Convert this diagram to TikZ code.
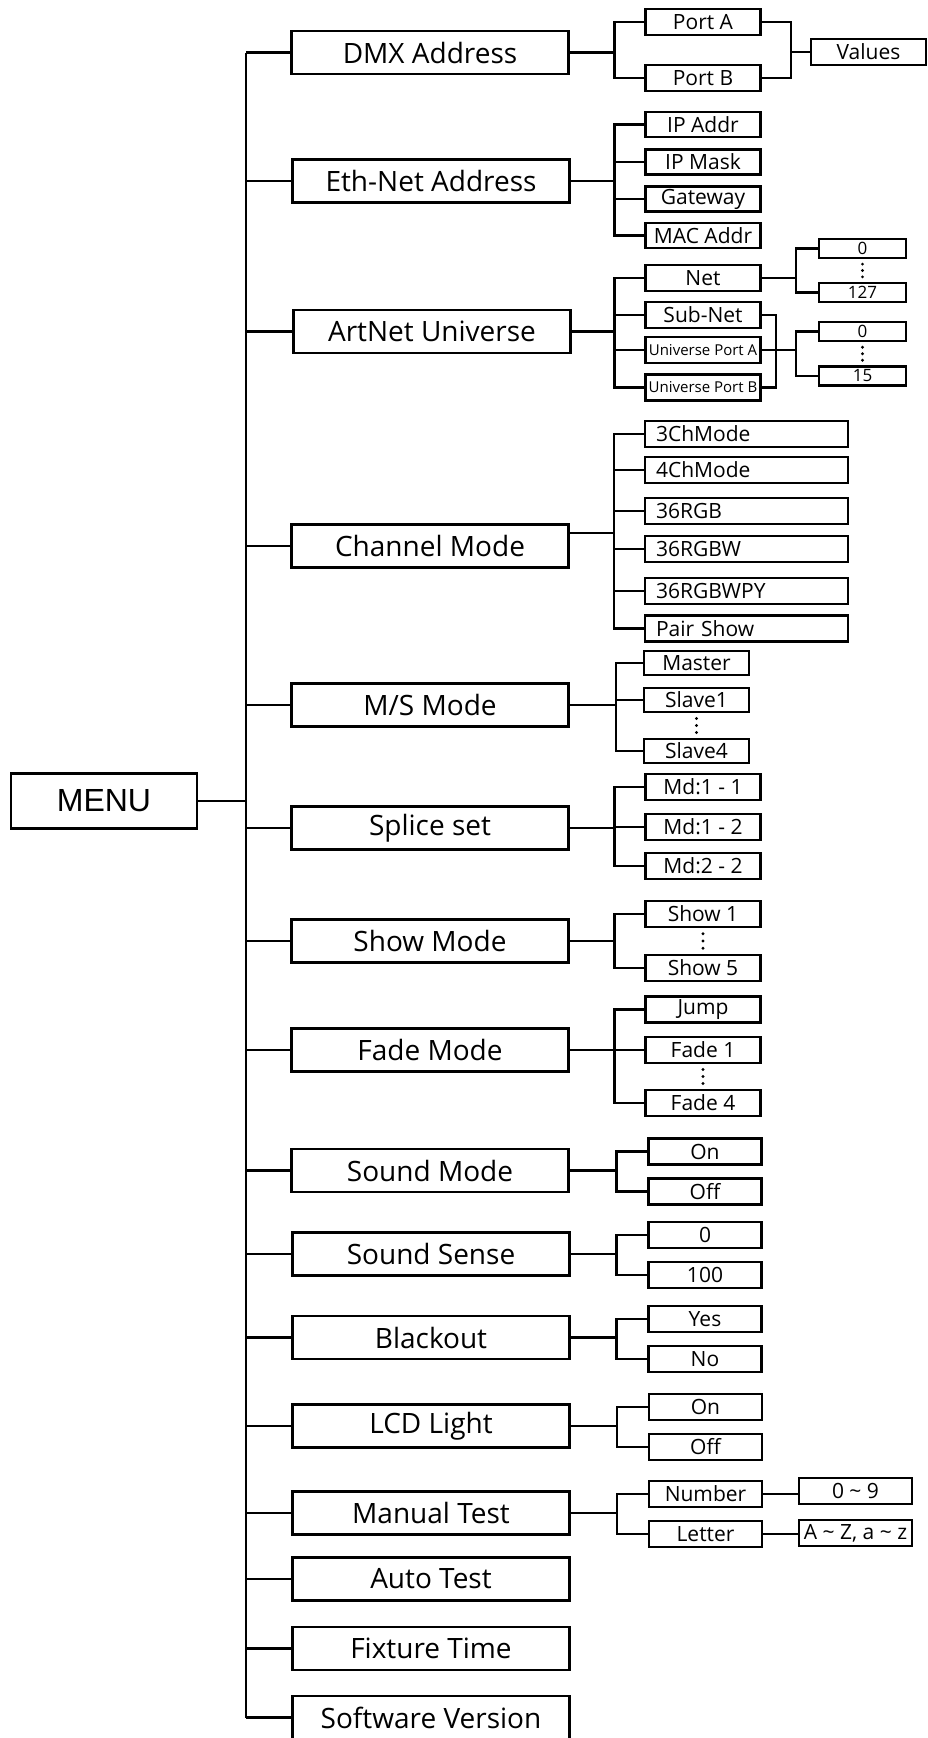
\documentclass[tikz,border=0pt]{standalone}
\usepackage{fontspec}
\setmainfont{Open Sans}
\newfontfamily\menufont{Liberation Sans}
\usetikzlibrary{calc}

\begin{document}
\begin{tikzpicture}[x=1pt, y=-1pt, line width=2.2pt,
	mainbox/.style={draw, minimum width=277pt, minimum height=43pt, inner sep=2pt, font=\fontsize{28}{30}\selectfont},
	subbox/.style={draw, minimum width=115pt, minimum height=26pt, inner sep=2pt, font=\fontsize{21}{23}\selectfont},
	valbox/.style={draw, minimum width=87pt, minimum height=19pt, inner sep=1pt, font=\fontsize{17}{19}\selectfont},
	modebox/.style={draw, text width=181pt, inner xsep=11pt, inner ysep=2pt, minimum height=26pt, align=left, font=\fontsize{21}{23}\selectfont}]
	\useasboundingbox (0,0) rectangle (928,1738);
	% menu and first level
	\node[draw, minimum width=186pt, minimum height=55pt, font=\menufont\fontsize{32}{34}\selectfont] (menu) at (104,801) {MENU};
	\node[mainbox] (dmx) at (430,52.5) {DMX Address};
	\node[mainbox] (eth) at (431,181) {Eth-Net Address};
	\node[mainbox] (art) at (432,331.5) {ArtNet Universe};
	\node[mainbox] (chan) at (430,546) {Channel Mode};
	\node[mainbox] (ms) at (430,705) {M/S Mode};
	\node[mainbox] (splice) at (430,828) {Splice set};
	\node[mainbox] (show) at (430,941) {Show Mode};
	\node[mainbox] (fade) at (430,1050) {Fade Mode};
	\node[mainbox] (sndmode) at (430,1170.5) {Sound Mode};
	\node[mainbox] (sense) at (431,1254) {Sound Sense};
	\node[mainbox] (black) at (431,1337.5) {Blackout};
	\node[mainbox] (lcd) at (431,1426) {LCD Light};
	\node[mainbox] (manual) at (431,1513) {Manual Test};
	\node[mainbox] (autotest) at (431,1579) {Auto Test};
	\node[mainbox] (fixture) at (431,1648.5) {Fixture Time};
	\node[mainbox] (soft) at (431,1717.5) {Software Version};
	\coordinate (trunk) at (246,801);
	\draw (menu.east) -- (trunk);
	\draw (dmx.west -| trunk) -- (soft.west -| trunk);
	\foreach \n in {dmx,eth,art,chan,ms,splice,show,fade,sndmode,sense,black,lcd,manual,autotest,fixture,soft}
		\draw (\n.west) -- (\n.west -| trunk);
	% DMX Address
	\node[subbox] (porta) at (703,22) {Port A};
	\node[subbox] (portb) at (703,78) {Port B};
	\node[subbox] (values) at (868.5,52) {Values};
	\foreach \c in {porta,portb} {
		\draw (\c.west) -- ++(-30,0) |- (dmx.east);
		\draw (\c.east) -- ++(29,0) |- (values.west);
	}
	% Eth-Net Address
	\node[subbox, minimum height=25pt] (ipaddr) at (703,124.5) {IP Addr};
	\node[subbox, minimum height=25pt] (ipmask) at (703,162) {IP Mask};
	\node[subbox, minimum height=25pt] (gateway) at (703,199) {Gateway};
	\node[subbox, minimum height=25pt] (macaddr) at (703,235.5) {MAC Addr};
	\foreach \c in {ipaddr,ipmask,gateway,macaddr}
		\draw (\c.west) -- ++(-30,0) |- (eth.east);
	% ArtNet Universe
	\node[subbox] (net) at (703,278) {Net};
	\node[subbox] (subnet) at (703,315) {Sub-Net};
	\node[subbox, font=\fontsize{15}{17}\selectfont] (upa) at (703,350) {Universe Port A};
	\node[subbox, font=\fontsize{15}{17}\selectfont] (upb) at (703,387.5) {Universe Port B};
	\node[valbox] (net0) at (862.5,248.5) {0};
	\node[valbox] (net127) at (862.5,292.5) {127};
	\node[valbox] (uni0) at (862.5,331.5) {0};
	\node[valbox] (uni15) at (862.5,376) {15};
	\foreach \c in {net,subnet,upa,upb}
		\draw (\c.west) -- ++(-30,0) |- (art.east);
	\foreach \c in {net0,net127}
		\draw (\c.west) -- ++(-22,0) |- (net.east);
	\draw (subnet.east) -- ++(14,0) |- (upb.east);
	\foreach \c in {uni0,uni15}
		\draw (\c.west) -- ++(-22,0) |- (upa.east);
	% Channel Mode
	\node[modebox] (m3ch) at (746.5,434) {3ChMode};
	\node[modebox] (m4ch) at (746.5,470) {4ChMode};
	\node[modebox] (mrgb) at (746.5,511) {36RGB};
	\node[modebox] (mrgbw) at (746.5,549) {36RGBW};
	\node[modebox] (mrgbwpy) at (746.5,591) {36RGBWPY};
	\node[modebox] (mpair) at (746.5,628.5) {Pair Show};
	\foreach \c in {m3ch,m4ch,mrgb,mrgbw,mrgbwpy,mpair}
		\draw (\c.west) -- ++(-30,0) |- ([yshift=13pt]chan.east);
	% M/S Mode
	\node[subbox, minimum width=105pt, minimum height=24pt] (master) at (696.5,663) {Master};
	\node[subbox, minimum width=105pt, minimum height=24pt] (slave1) at (696.5,700) {Slave1};
	\node[subbox, minimum width=105pt, minimum height=24pt] (slave4) at (696.5,751) {Slave4};
	\foreach \c in {master,slave1,slave4}
		\draw (\c.west) -- ++(-27,0) |- (ms.east);
	% Splice set
	\node[subbox] (md11) at (703,787) {Md:1 - 1};
	\node[subbox] (md12) at (703,827) {Md:1 - 2};
	\node[subbox] (md22) at (703,866) {Md:2 - 2};
	\foreach \c in {md11,md12,md22}
		\draw (\c.west) -- ++(-30,0) |- (splice.east);
	% Show Mode
	\node[subbox] (show1) at (703,914) {Show 1};
	\node[subbox] (show5) at (703,968) {Show 5};
	\foreach \c in {show1,show5}
		\draw (\c.west) -- ++(-30,0) |- (show.east);
	% Fade Mode
	\node[subbox] (jump) at (703,1009.5) {Jump};
	\node[subbox] (fade1) at (703,1050) {Fade 1};
	\node[subbox] (fade4) at (703,1103) {Fade 4};
	\foreach \c in {jump,fade1,fade4}
		\draw (\c.west) -- ++(-30,0) |- (fade.east);
	% Sound Mode, Sound Sense, Blackout, LCD Light
	\node[subbox, minimum width=113pt] (sndon) at (705,1151.5) {On};
	\node[subbox, minimum width=113pt] (sndoff) at (705,1191.5) {Off};
	\node[subbox, minimum width=113pt] (sense0) at (705,1235) {0};
	\node[subbox, minimum width=113pt] (sense100) at (705,1275) {100};
	\node[subbox, minimum width=113pt] (yes) at (705,1319) {Yes};
	\node[subbox, minimum width=113pt] (no) at (705,1359) {No};
	\node[subbox, minimum width=113pt] (lcdon) at (705.5,1407) {On};
	\node[subbox, minimum width=113pt] (lcdoff) at (705.5,1447) {Off};
	\foreach \c/\p in {sndon/sndmode,sndoff/sndmode,sense0/sense,sense100/sense,yes/black,no/black,lcdon/lcd,lcdoff/lcd}
		\draw (\c.west) -- ++(-31,0) |- (\p.east);
	% Manual Test
	\node[subbox, minimum width=113pt] (number) at (705.5,1494) {Number};
	\node[subbox, minimum width=113pt] (letter) at (705.5,1534) {Letter};
	\node[subbox, minimum width=113pt, inner xsep=1pt] (digits) at (855.5,1491) {0 \textasciitilde{} 9};
	\node[subbox, minimum width=113pt, inner xsep=1pt] (letters) at (855.5,1533) {A \textasciitilde{} Z, a \textasciitilde{} z};
	\foreach \c in {number,letter}
		\draw (\c.west) -- ++(-31,0) |- (manual.east);
	\draw (number.east) -- (number.east -| digits.west);
	\draw (letter.east) -- (letter.east -| letters.west);
	% dots between first and last entries
	\foreach \a/\b in {net0/net127,uni0/uni15,slave1/slave4,show1/show5,fade1/fade4}
		\foreach \t in {0.22,0.5,0.78}
			\fill ($(\a.south)!\t!(\b.north)$) circle (1.6pt);
\end{tikzpicture}
\end{document}
